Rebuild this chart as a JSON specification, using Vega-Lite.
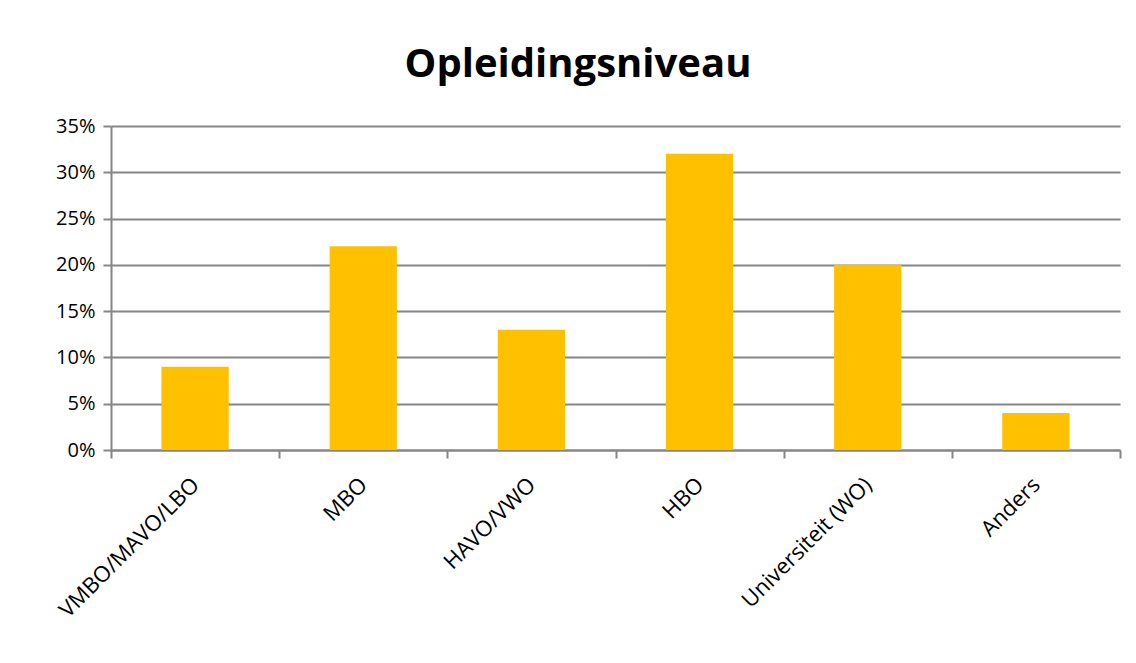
{
  "$schema": "https://vega.github.io/schema/vega-lite/v6.json",
  "autosize": {"type": "none"},
  "width": 1009,
  "height": 324,
  "padding": {"left": 111, "top": 126, "right": 16, "bottom": 213},
  "background": "white",
  "title": {
    "text": "Opleidingsniveau",
    "font": "Open Sans",
    "fontSize": 40,
    "fontWeight": "bold",
    "color": "#000000",
    "anchor": "middle",
    "frame": "bounds",
    "offset": 31,
    "dx": -10
  },
  "data": {
    "values": [
      {"niveau": "VMBO/MAVO/LBO", "pct": 0.09},
      {"niveau": "MBO", "pct": 0.22},
      {"niveau": "HAVO/VWO", "pct": 0.13},
      {"niveau": "HBO", "pct": 0.32},
      {"niveau": "Universiteit (WO)", "pct": 0.20},
      {"niveau": "Anders", "pct": 0.04}
    ]
  },
  "mark": {"type": "bar", "color": "#FFC000", "width": {"band": 0.4}},
  "encoding": {
    "x": {
      "field": "niveau",
      "type": "nominal",
      "sort": null,
      "title": null,
      "scale": {"paddingInner": 0, "paddingOuter": 0},
      "axis": {
        "labelAngle": -45,
        "labelAlign": "right",
        "labelBaseline": "middle",
        "labelPadding": 23,
        "labelLimit": 0,
        "labelFont": "Open Sans",
        "labelFontSize": 22,
        "labelColor": "#000000",
        "tickBand": "extent",
        "tickSize": 8,
        "tickColor": "#868686",
        "tickWidth": 2,
        "domainColor": "#868686",
        "domainWidth": 2,
        "grid": false
      }
    },
    "y": {
      "field": "pct",
      "type": "quantitative",
      "title": null,
      "scale": {"domain": [0, 0.35]},
      "axis": {
        "format": ".0%",
        "values": [0, 0.05, 0.1, 0.15, 0.2, 0.25, 0.3, 0.35],
        "labelFont": "Open Sans",
        "labelFontSize": 20,
        "labelColor": "#000000",
        "labelPadding": 8,
        "tickSize": 8,
        "tickColor": "#868686",
        "tickWidth": 2,
        "domainColor": "#868686",
        "domainWidth": 2,
        "grid": true,
        "gridColor": "#868686",
        "gridWidth": 2
      }
    }
  },
  "config": {"view": {"stroke": null}}
}
